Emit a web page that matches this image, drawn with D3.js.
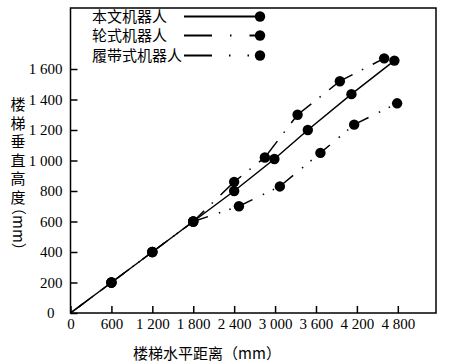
<!DOCTYPE html>
<html><head><meta charset="utf-8">
<script src="https://cdn.jsdelivr.net/npm/d3@7"></script>
<style>body{margin:0;background:#fff}svg{display:block}</style>
</head><body>
<svg id="c" width="450" height="364"></svg>
<script>
// ---- data ----
const seriesNames = ["本文机器人", "轮式机器人", "履带式机器人"];
const solidX = [0, 600, 1200, 1800, 2400, 2990, 3480, 4120, 4750];
const solidY = [0, 200, 400, 600, 800, 1010, 1200, 1435, 1655];
const wheelX = [0, 600, 1200, 1800, 2400, 2850, 3330, 3950, 4600];
const wheelY = [0, 200, 400, 600, 860, 1020, 1300, 1520, 1670];
const trackX = [0, 600, 1200, 1800, 2470, 3070, 3665, 4160, 4790];
const trackY = [0, 200, 400, 600, 700, 830, 1050, 1235, 1375];
const xTicks = [0, 600, 1200, 1800, 2400, 3000, 3600, 4200, 4800];
const xTickLabels = ["0", "600", "1 200", "1 800", "2 400", "3 000", "3 600", "4 200", "4 800"];
const yTicks = [0, 200, 400, 600, 800, 1000, 1200, 1400, 1600];
const yTickLabels = ["0", "200", "400", "600", "800", "1 000", "1 200", "1 400", "1 600"];
const xTitle = "楼梯水平距离（mm）";
const yTitleMain = "楼梯垂直高度";
const yTitleUnit = "（mm）";

// ---- layout ----
const svg = d3.select("#c");
const L = 70.5, R = 436, T = 8, B = 313;
const x = d3.scaleLinear().domain([0, 5360]).range([L, R]);
const y = d3.scaleLinear().domain([0, 2000]).range([B, T]);
const serif = "'Liberation Serif','Times New Roman',serif";
const cjk = "'Noto Sans CJK SC','Noto Sans CJK JP',sans-serif";

// axes
const xa = svg.append("g").attr("transform", `translate(0,${B})`)
  .call(d3.axisBottom(x).tickValues(xTicks).tickSize(-7).tickPadding(5)
    .tickFormat((d, i) => xTickLabels[i]));
const ya = svg.append("g").attr("transform", `translate(${L},0)`)
  .call(d3.axisLeft(y).tickValues(yTicks).tickSize(-7).tickPadding(8)
    .tickFormat((d, i) => yTickLabels[i]));
[xa, ya].forEach(g => {
  g.select(".domain").remove();
  g.selectAll("line").attr("stroke", "#000").attr("stroke-width", 1.5);
  g.selectAll("text").attr("font-family", serif).attr("font-size", 15).attr("fill", "#000");
});
ya.selectAll(".tick").filter(d => d === 0).select("text").attr("x", -16);

// frame
svg.append("rect").attr("x", L).attr("y", T).attr("width", R - L).attr("height", B - T)
  .attr("fill", "none").attr("stroke", "#000").attr("stroke-width", 1.5);

// titles
svg.append("text").attr("x", 207).attr("y", 359).attr("text-anchor", "middle")
  .attr("font-family", cjk).attr("font-size", 15).text(xTitle);
svg.append("text").attr("x", 18).attr("y", 97)
  .attr("font-family", cjk).attr("font-size", 15)
  .style("writing-mode", "vertical-rl").style("letter-spacing", "3.5px").text(yTitleMain);
svg.append("text").attr("transform", "translate(13,200) rotate(90)")
  .attr("font-family", cjk).attr("font-size", 15).text(yTitleUnit);

// series
const line = d3.line().x(d => x(d[0])).y(d => y(d[1]));
function pts(xs, ys) { return xs.map((v, i) => [v, ys[i]]); }
function lenTo(p, k) {
  let s = 0;
  for (let i = 1; i <= k; i++) {
    const a = p[i - 1], b = p[i];
    s += Math.hypot(x(b[0]) - x(a[0]), y(b[1]) - y(a[1]));
  }
  return s;
}
const series = [
  { p: pts(trackX, trackY), dash: "15.5,11.5,1.5,9.5,1.5,8.2", shift: 0 },
  { p: pts(wheelX, wheelY), dash: "28,10.5,1.5,10.75", shift: 38 },
  { p: pts(solidX, solidY), dash: null, shift: 0 }
];
series.forEach(s => {
  const path = svg.append("path").attr("d", line(s.p)).attr("fill", "none")
    .attr("stroke", "#000").attr("stroke-width", 1.5);
  if (s.dash) path.attr("stroke-dasharray", s.dash)
    .attr("stroke-dashoffset", -(lenTo(s.p, 3) + s.shift));
});
series.forEach(s => {
  svg.append("g").selectAll("circle").data(s.p.filter(d => d[0] > 0)).join("circle")
    .attr("cx", d => x(d[0])).attr("cy", d => y(d[1])).attr("r", 5.2).attr("fill", "#000");
});

// legend
const legY = [16.5, 35.5, 55.5];
const legDash = [null, "28,18,1.5,18", "28,17,1.5,17,1.5,20"];
seriesNames.forEach((n, i) => {
  svg.append("text").attr("x", 92).attr("y", legY[i] + 5.6)
    .attr("font-family", cjk).attr("font-size", 15).text(n);
  const l = svg.append("line").attr("x1", 184).attr("x2", 260)
    .attr("y1", legY[i]).attr("y2", legY[i]).attr("stroke", "#000").attr("stroke-width", 2.2);
  if (legDash[i]) l.attr("stroke-dasharray", legDash[i]);
  svg.append("circle").attr("cx", 260).attr("cy", legY[i]).attr("r", 5.2).attr("fill", "#000");
});
</script>
</body></html>
